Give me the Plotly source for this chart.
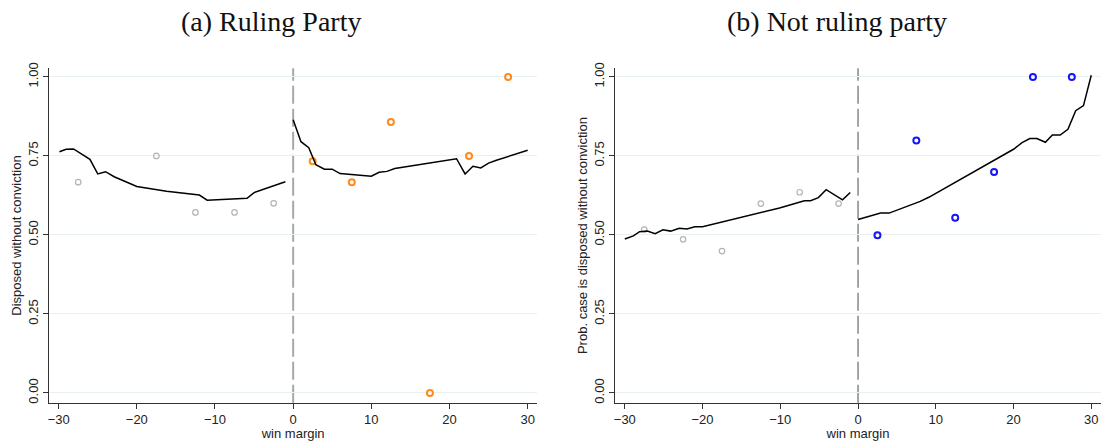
import plotly.graph_objects as go

# ---- data ----
bins_left = [-27.5, -17.5, -12.5, -7.5, -2.5]
bins_right = [2.5, 7.5, 12.5, 17.5, 22.5, 27.5]

# Panel (a) Ruling party
a_pts_left = [0.667, 0.75, 0.571, 0.571, 0.60]
a_pts_right = [0.733, 0.667, 0.857, 0.0, 0.75, 1.0]
a_line_left_x = [-29.9, -29.05, -28.1, -27.0, -26.0, -25.0, -24.0, -22.9, -21.1, -20.0, -16.2, -12.0, -11.0, -5.9, -5.0, -1.0]
a_line_left_y = [0.763, 0.771, 0.772, 0.756, 0.739, 0.693, 0.700, 0.684, 0.666, 0.653, 0.638, 0.626, 0.610, 0.616, 0.634, 0.668]
a_line_right_x = [0.0, 1.0, 2.0, 2.9, 4.0, 5.0, 6.0, 10.0, 11.0, 12.0, 13.0, 20.9, 22.0, 23.0, 24.0, 25.0, 26.0, 27.7, 30.0]
a_line_right_y = [0.864, 0.795, 0.776, 0.722, 0.708, 0.708, 0.694, 0.686, 0.698, 0.701, 0.710, 0.741, 0.693, 0.717, 0.712, 0.727, 0.736, 0.749, 0.768]

# Panel (b) Not ruling party
b_bins_left = [-27.5, -22.5, -17.5, -12.5, -7.5, -2.5]
b_pts_left = [0.517, 0.486, 0.449, 0.599, 0.635, 0.599]
b_pts_right = [0.499, 0.799, 0.554, 0.699, 1.0, 1.0]
b_line_left_x = [-30.0, -28.9, -28.1, -27.1, -26.1, -25.1, -24.1, -23.0, -22.0, -21.0, -20.0, -19.0, -18.0, -17.0, -12.7, -10.1, -9.1, -8.0, -6.9, -6.1, -5.1, -4.1, -3.0, -2.0, -1.0]
b_line_left_y = [0.487, 0.497, 0.510, 0.512, 0.504, 0.516, 0.512, 0.521, 0.519, 0.526, 0.526, 0.532, 0.536, 0.543, 0.570, 0.585, 0.592, 0.599, 0.608, 0.608, 0.618, 0.643, 0.627, 0.611, 0.634]
b_line_right_x = [0.0, 2.9, 4.0, 8.0, 9.1, 20.0, 21.1, 22.1, 23.0, 24.1, 25.0, 26.0, 27.0, 28.0, 29.0, 30.0]
b_line_right_y = [0.549, 0.569, 0.569, 0.606, 0.619, 0.771, 0.792, 0.805, 0.805, 0.793, 0.816, 0.816, 0.834, 0.893, 0.909, 1.005]

x_ticks = [-30, -20, -10, 0, 10, 20, 30]
y_ticks = [0, 0.25, 0.5, 0.75, 1.0]

titles = ["(a) Ruling Party", "(b) Not ruling party"]
y_titles = ["Disposed without conviction", "Prob. case is disposed without conviction"]
x_title = "win margin"

GRAY = "#b4b4b4"
ORANGE = "#ff8a1e"
BLUE = "#1414ff"

fig = go.Figure()

def add_panel(xa, ya, pl_x, pl_y, pr_x, pr_y, llx, lly, lrx, lry, rcol):
    fig.add_trace(go.Scatter(x=pl_x, y=pl_y, mode="markers", xaxis=xa, yaxis=ya,
                             marker=dict(symbol="circle-open", size=5.5, color=GRAY, line=dict(width=1.2, color=GRAY)),
                             showlegend=False))
    fig.add_trace(go.Scatter(x=pr_x, y=pr_y, mode="markers", xaxis=xa, yaxis=ya,
                             marker=dict(symbol="circle-open", size=6, color=rcol, line=dict(width=2, color=rcol)),
                             showlegend=False))
    fig.add_trace(go.Scatter(x=llx, y=lly, mode="lines", xaxis=xa, yaxis=ya,
                             line=dict(color="black", width=1.5), showlegend=False))
    fig.add_trace(go.Scatter(x=lrx, y=lry, mode="lines", xaxis=xa, yaxis=ya,
                             line=dict(color="black", width=1.5), showlegend=False))

add_panel("x", "y", bins_left, a_pts_left, bins_right, a_pts_right,
          a_line_left_x, a_line_left_y, a_line_right_x, a_line_right_y, ORANGE)
add_panel("x2", "y2", b_bins_left, b_pts_left, bins_right, b_pts_right,
          b_line_left_x, b_line_left_y, b_line_right_x, b_line_right_y, BLUE)

font_sans = "Liberation Sans, Arial, sans-serif"

def xaxis(domain, anchor):
    return dict(domain=domain, anchor=anchor, range=[-31.2, 31.2], tickvals=x_ticks,
                ticks="outside", ticklen=5, tickwidth=1, tickcolor="#333",
                showline=True, linecolor="#333", linewidth=1, showgrid=False, zeroline=False,
                automargin=False,
                title=dict(text=x_title, font=dict(size=13, color="#222"), standoff=2),
                tickfont=dict(size=13, color="#222"))

def yaxis(domain, anchor, title):
    return dict(domain=domain, anchor=anchor, range=[-0.031, 1.027], tickvals=y_ticks,
                tickformat=".2f", tickangle=-90,
                ticks="outside", ticklen=5, tickwidth=1, tickcolor="#333",
                showline=True, linecolor="#333", linewidth=1,
                showgrid=True, gridcolor="#e8f0f2", gridwidth=1, zeroline=False,
                automargin=False,
                title=dict(text=title, font=dict(size=13, color="#222"), standoff=1),
                tickfont=dict(size=13, color="#222"))

fig.update_layout(
    width=1105, height=441,
    margin=dict(l=0, r=0, t=0, b=0, autoexpand=False),
    paper_bgcolor="white", plot_bgcolor="white",
    font=dict(family=font_sans),
    xaxis=xaxis([0.0446, 0.4860], "y"),
    yaxis=yaxis([0.0868, 0.845], "x", y_titles[0]),
    xaxis2=xaxis([0.5570, 0.9960], "y2"),
    yaxis2=yaxis([0.0868, 0.845], "x2", y_titles[1]),
    shapes=[
        dict(type="line", xref="x", yref="y domain", x0=0, x1=0, y0=0, y1=1,
             line=dict(color="#a8a8a8", width=2, dash="18px,5px"), layer="below"),
        dict(type="line", xref="x2", yref="y2 domain", x0=0, x1=0, y0=0, y1=1,
             line=dict(color="#6a6a6a", width=1.2, dash="18px,5px"), layer="below"),
    ],
    annotations=[
        dict(text=titles[0], x=270.5 / 1105, y=1 - 22 / 441, xref="paper", yref="paper",
             showarrow=False, xanchor="center", yanchor="middle",
             font=dict(family="Liberation Serif, serif", size=28, color="#111")),
        dict(text=titles[1], x=837 / 1105, y=1 - 22 / 441, xref="paper", yref="paper",
             showarrow=False, xanchor="center", yanchor="middle",
             font=dict(family="Liberation Serif, serif", size=28, color="#111")),
    ],
)

fig.write_html("out.html", config={"displayModeBar": False},
               post_script="document.body.style.margin='0';document.body.style.overflow='hidden';")
